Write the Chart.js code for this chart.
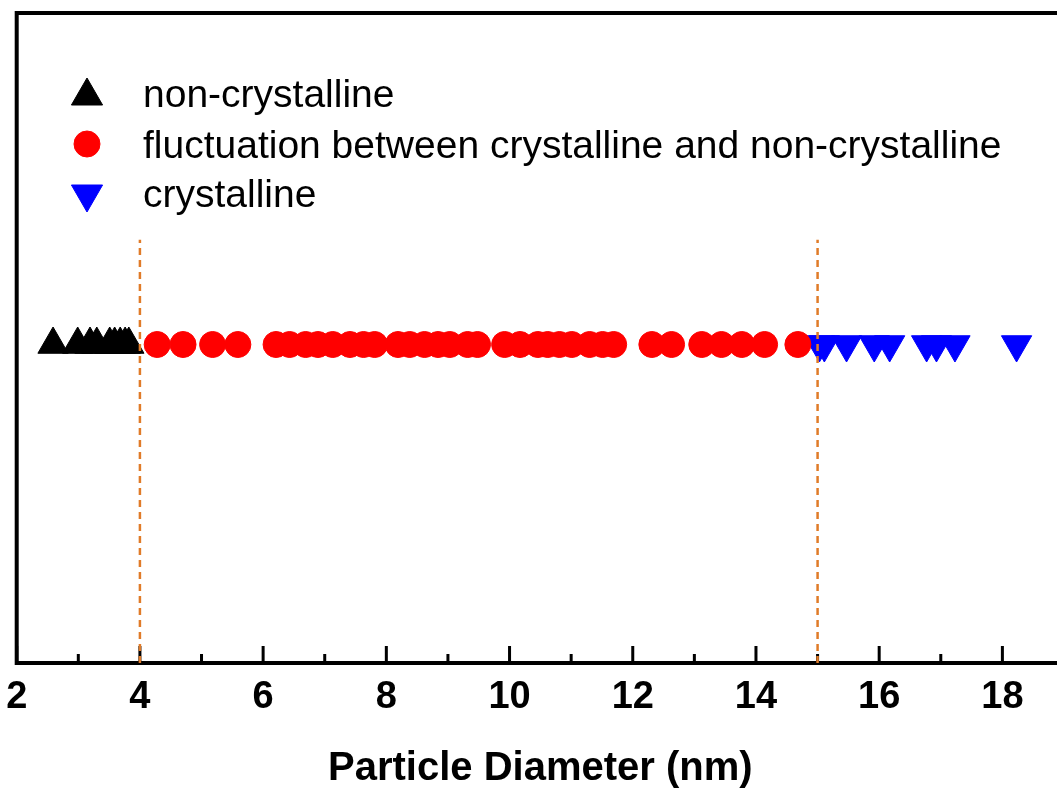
<!DOCTYPE html>
<html><head><meta charset="utf-8">
<script src="https://cdn.jsdelivr.net/npm/chart.js@4.4.1/dist/chart.umd.min.js"></script>
<style>
html,body{margin:0;padding:0;background:#fff;overflow:hidden;width:1057px;height:789px}
#wrap{position:absolute;left:0;top:0;width:1075px;height:789px}
</style></head>
<body><div id="wrap"><canvas id="c" width="1075" height="789"></canvas></div>
<script>
// ---- data ----
const xTicks = [2, 4, 6, 8, 10, 12, 14, 16, 18];
const minorTicks = [3, 5, 7, 9, 11, 13, 15, 17];
const seriesLabels = ['non-crystalline', 'fluctuation between crystalline and non-crystalline', 'crystalline'];
const nonCrystalline = [2.59, 2.99, 3.19, 3.30, 3.51, 3.59, 3.68, 3.76, 3.82];
const fluctuation = [4.28, 4.70, 5.18, 5.59, 6.21, 6.43, 6.69, 6.89, 7.13, 7.41, 7.63, 7.81,
  8.19, 8.38, 8.62, 8.84, 9.03, 9.32, 9.48, 9.92, 10.17, 10.46, 10.62, 10.81, 11.01,
  11.30, 11.51, 11.69, 12.31, 12.63, 13.12, 13.44, 13.77, 14.14, 14.68];
const crystalline = [15.03, 15.11, 15.47, 15.92, 16.17, 16.77, 16.93, 17.23, 18.23];
const rowLevel = 0.49;
const boundaries = [4, 15];
const boundaryTop = 0.651;
const xTitle = 'Particle Diameter (nm)';

const FONT = "'Liberation Sans', Arial, sans-serif";
const toPts = arr => arr.map(v => ({x: v, y: rowLevel}));

const datasets = [];
boundaries.forEach(b => datasets.push({
  type: 'line', label: 'boundary', data: [{x: b, y: 0}, {x: b, y: boundaryTop}],
  borderColor: '#e07b28', borderWidth: 2.5, borderDash: [7, 5], pointRadius: 0,
  showLine: true, fill: false, order: 0
}));
datasets.push({label: seriesLabels[1], data: toPts(fluctuation), pointStyle: 'circle',
  pointRadius: 13, backgroundColor: '#ff0000', borderColor: '#ff0000', borderWidth: 1, order: 1});
datasets.push({label: seriesLabels[0], data: toPts(nonCrystalline), pointStyle: 'triangle',
  pointRadius: 17.5, backgroundColor: '#000000', borderColor: '#000000', borderWidth: 1, order: 2});
datasets.push({label: seriesLabels[2], data: toPts(crystalline), pointStyle: 'triangle', rotation: 180,
  pointRadius: 17.5, backgroundColor: '#0000ff', borderColor: '#0000ff', borderWidth: 1, order: 3});

const framePlugin = {
  id: 'frame',
  beforeDatasetsDraw(chart) {
    const {ctx, chartArea: a, scales: {x}} = chart;
    ctx.save();
    ctx.strokeStyle = '#000';
    ctx.lineWidth = 4;
    ctx.strokeRect(a.left, a.top, a.right - a.left, a.bottom - a.top);
    ctx.lineWidth = 3;
    ctx.beginPath();
    xTicks.forEach(v => { const p = x.getPixelForValue(v); ctx.moveTo(p, a.bottom); ctx.lineTo(p, a.bottom - 17); });
    minorTicks.forEach(v => { const p = x.getPixelForValue(v); ctx.moveTo(p, a.bottom); ctx.lineTo(p, a.bottom - 9); });
    ctx.stroke();
    ctx.restore();
  }
};

const legendPlugin = {
  id: 'insideLegend',
  afterDraw(chart) {
    const {ctx} = chart;
    const entries = [
      {label: seriesLabels[0], style: 'triangle', rot: 0, r: 18, color: '#000000', my: 96},
      {label: seriesLabels[1], style: 'circle', rot: 0, r: 13, color: '#ff0000', my: 144},
      {label: seriesLabels[2], style: 'triangle', rot: 180, r: 18, color: '#0000ff', my: 194}
    ];
    const baselines = [107, 157.5, 207];
    ctx.save();
    entries.forEach((e, i) => {
      ctx.fillStyle = e.color; ctx.strokeStyle = e.color; ctx.lineWidth = 1;
      Chart.helpers.drawPoint(ctx, {pointStyle: e.style, radius: e.r, rotation: e.rot, borderWidth: 1}, 87, e.my);
      ctx.fillStyle = '#000';
      ctx.font = '39px ' + FONT;
      ctx.textBaseline = 'alphabetic';
      ctx.textAlign = 'left';
      ctx.fillText(e.label, 143, baselines[i]);
    });
    ctx.restore();
  }
};

new Chart(document.getElementById('c'), {
  type: 'scatter',
  data: {datasets},
  options: {
    responsive: false,
    animation: false,
    layout: {autoPadding: false, padding: {left: 16.7, top: 13, right: 11, bottom: 0}},
    plugins: {legend: {display: false}, tooltip: {enabled: false}},
    scales: {
      x: {
        type: 'linear', min: 2, max: 19,
        afterBuildTicks: s => { s.ticks = xTicks.map(v => ({value: v})); },
        afterFit: s => { s.height = 126; s.paddingLeft = 0; s.paddingRight = 0; s.paddingTop = 0; s.paddingBottom = 0; },
        grid: {display: false, drawTicks: false},
        border: {display: false},
        ticks: {color: '#000', padding: 12, font: {family: FONT, size: 38, weight: 'bold'}, maxRotation: 0, autoSkip: false},
        title: {display: true, text: xTitle, color: '#000', padding: {top: 0, bottom: 0},
          font: {family: FONT, size: 40, weight: 'bold', lineHeight: 1.0}}
      },
      y: {type: 'linear', min: 0, max: 1, display: false, ticks: {display: false},
        afterFit: s => { s.width = 0; s.paddingTop = 0; s.paddingBottom = 0; s.paddingLeft = 0; s.paddingRight = 0; }}
    }
  },
  plugins: [framePlugin, legendPlugin]
});
</script>
</body></html>
